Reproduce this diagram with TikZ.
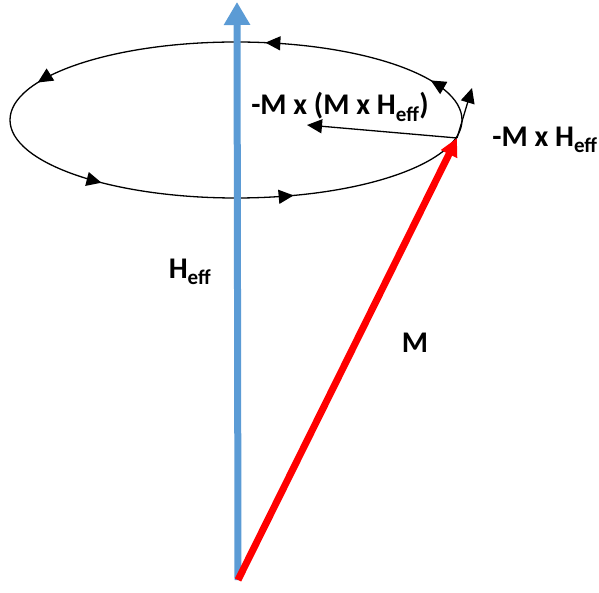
\documentclass[tikz,border=0pt]{standalone}
\usepackage{fontspec}
\setmainfont{Carlito}
\usetikzlibrary{arrows.meta, decorations.markings}
\definecolor{fieldblue}{RGB}{91,155,213}

\begin{document}
\begin{tikzpicture}[
      x=1pt, y=1pt,
      tip/.style={-{Triangle[length=15pt,width=14pt]}},
      field/.style={draw=fieldblue, line width=7pt, -{Triangle[length=23pt,width=25pt]}},
      magn/.style={draw=red, line width=7pt, -{Triangle[length=18pt,width=17pt]}},
      thin/.style={draw, line width=1.3pt, tip},
      orbit/.style={draw, line width=1.3pt, postaction=decorate, decoration={markings,
          mark=at position 0.052 with {\arrow{Triangle[length=15pt,width=14pt]}},
          mark=at position 0.221 with {\arrow{Triangle[length=15pt,width=14pt]}},
          mark=at position 0.452 with {\arrow{Triangle[length=15pt,width=14pt]}},
          mark=at position 0.616 with {\arrow{Triangle[length=15pt,width=14pt]}},
          mark=at position 0.807 with {\arrow{Triangle[length=15pt,width=14pt]}}}},
      lab/.style={font=\bfseries\fontsize{30}{34}\selectfont, inner sep=0pt}
    ]
    \useasboundingbox (0,0) rectangle (599,592);

    \coordinate (origin) at (238,12);
    \coordinate (htip) at (237,590);
    \coordinate (center) at (236,472);
    \coordinate (mtip) at (457,454);
    \coordinate (prec) at (472,504);
    \coordinate (damp) at (307,467);

    \draw[orbit] (center) ellipse [x radius=226pt, y radius=78pt];

    \draw[field] (origin) -- (htip);
    \draw[magn] (origin) -- (mtip);

    \draw[thin] (mtip) -- (damp);
    \draw[thin] (mtip) -- (prec);

    \node[lab] (heff) at (190,320) {H\textsubscript{eff}};
    \node[lab] (mlab) at (415,249) {M};
    \node[lab] (dlab) at (340,485) {-M x (M x H\textsubscript{eff})};
    \node[lab] (plab) at (545,452) {-M x H\textsubscript{eff}};

  \end{tikzpicture}
\end{document}
